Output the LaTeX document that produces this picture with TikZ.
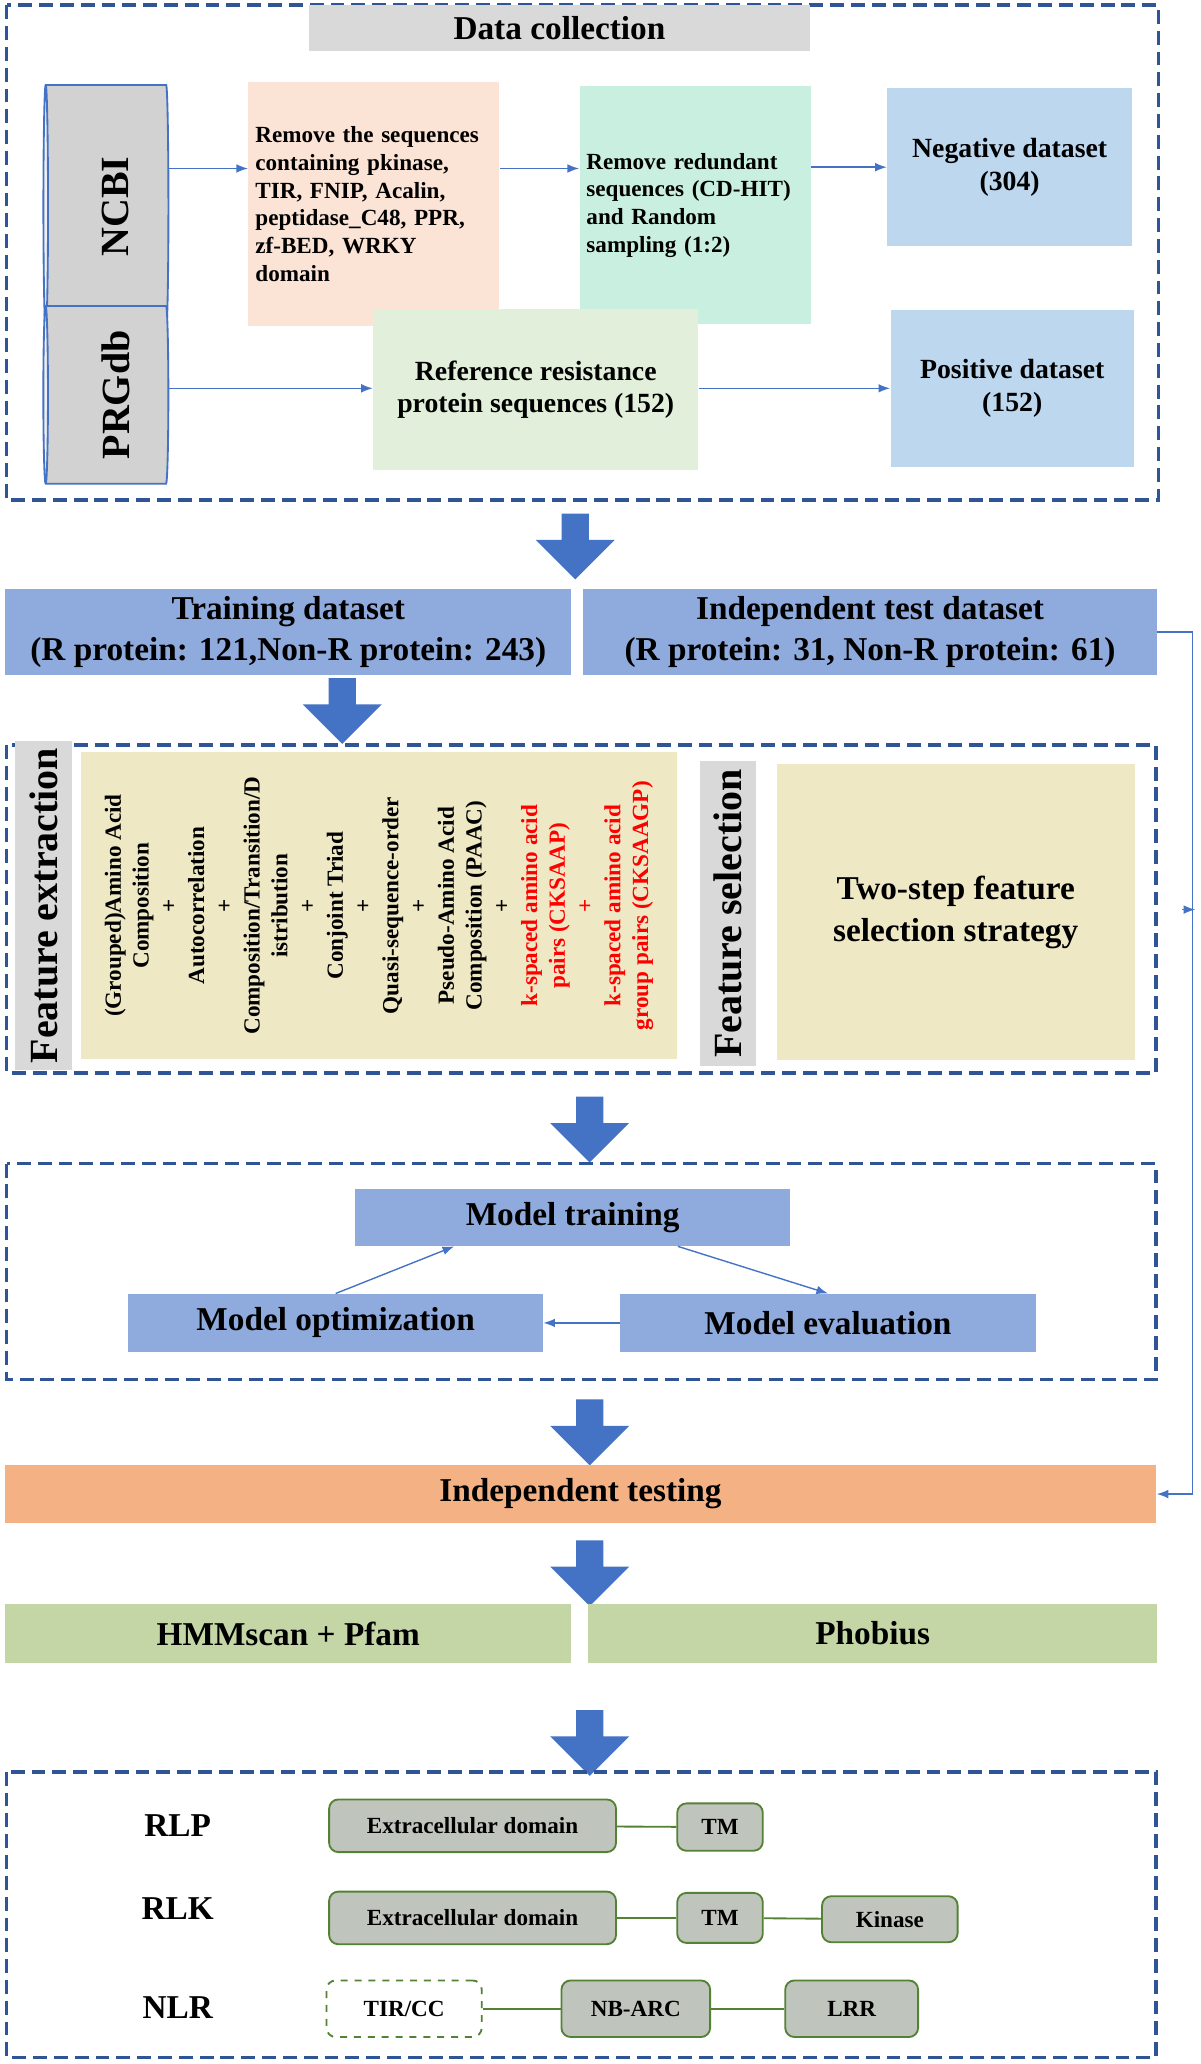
\documentclass[tikz,border=0pt]{standalone}
\usepackage{fontspec}
\setmainfont{Liberation Serif}
\usetikzlibrary{shapes.geometric, shapes.arrows, arrows.meta}
\definecolor{frameblue}{HTML}{2F5597}
\definecolor{lineblue}{HTML}{4472C4}
\definecolor{peach}{HTML}{FBE3D5}
\definecolor{mint}{HTML}{C9EFE1}
\definecolor{skyblue}{HTML}{BDD7EE}
\definecolor{palegreen}{HTML}{E2EFDA}
\definecolor{midblue}{HTML}{8FAADC}
\definecolor{tan}{HTML}{EEE8C4}
\definecolor{salmon}{HTML}{F4B183}
\definecolor{olive}{HTML}{C5D6A6}
\definecolor{domfill}{HTML}{BFC4BC}
\definecolor{domline}{HTML}{548235}
\newcommand\nohyphtext{\hyphenpenalty=10000 \exhyphenpenalty=10000 \relax}
\tikzset{
  frame/.style={draw=frameblue, line width=1.6pt, dash pattern=on 6pt off 3pt},
  box/.style={rectangle, inner sep=3pt, font=\bfseries, align=center},
  lbox/.style={box, align=left, text width=#1, font={\bfseries\nohyphtext}},
  db/.style={cylinder, shape border rotate=180, draw=lineblue, thick,
    cylinder uses custom fill, cylinder body fill=gray!35, cylinder end fill=gray!12,
    aspect=0.3, minimum height=1.9cm},
  flow/.style={-{Latex[length=5pt]}, draw=lineblue, semithick},
  bigarrow/.style={single arrow, fill=lineblue, shape border rotate=270,
    minimum width=1.2cm, minimum height=1cm, single arrow head extend=0.3cm,
    inner sep=0.15cm},
  dom/.style={rectangle, rounded corners=4pt, draw=domline, thick, fill=domfill,
    font=\bfseries, minimum height=0.8cm},
  link/.style={draw=domline, thick}
}
\begin{document}
\begin{tikzpicture}[x=0.02cm, y=-0.02cm]
\useasboundingbox (0,0) rectangle (912,1568);
% data collection
\draw[frame] (5,4) rectangle (880,380);
\node[box, fill=gray!30, minimum width=7.6cm, minimum height=0.7cm, font=\bfseries\Large] (title) at (425,21) {Data collection};
\node[db, minimum width=3.7cm] (ncbi) at (82,157) {};
\node[rotate=90, font=\bfseries\LARGE] (ncbit) at (88,157) {NCBI};
\node[db, minimum width=2.7cm] (prgdb) at (82,300) {};
\node[rotate=90, font=\bfseries\LARGE] (prgdbt) at (88,300) {PRGdb};
\node[lbox=3.6cm, fill=peach, minimum height=3.7cm] (rmdom) at (284,155) {\baselineskip=15pt Remove the sequences containing pkinase, TIR, FNIP, Acalin, peptidase\_C48, PPR, zf-BED, WRKY domain};
\node[lbox=3.3cm, fill=mint, minimum height=3.62cm] (rmred) at (528,156) {\baselineskip=15pt Remove redundant sequences (CD-HIT) and Random sampling (1:2)};
\node[box, fill=skyblue, minimum width=3.72cm, minimum height=2.4cm, font=\bfseries\large] (neg) at (767,127) {Negative dataset\\(304)};
\node[box, fill=palegreen, minimum width=4.94cm, minimum height=2.44cm, font=\bfseries\large] (ref) at (407,296) {Reference resistance\\protein sequences (152)};
\node[box, fill=skyblue, minimum width=3.7cm, minimum height=2.38cm, font=\bfseries\large] (pos) at (769,295) {Positive dataset\\(152)};
\draw[flow] (ncbi.east |- 0,128) -- (rmdom.west |- 0,128);
\draw[flow] (rmdom.east |- 0,128) -- (rmred.west |- 0,128);
\draw[flow] (rmred.east |- 0,127) -- (neg.west |- 0,127);
\draw[flow] (prgdb.east |- 0,295) -- (ref.west |- 0,295);
\draw[flow] (ref.east |- 0,295) -- (pos.west |- 0,295);
\node[bigarrow] (a1) at (437,410) {};
% datasets
\node[box, fill=midblue, minimum width=8.6cm, minimum height=1.14cm, font=\bfseries\Large] (train) at (219,480) {Training dataset\\(R protein: 121,Non-R protein: 243)};
\node[box, fill=midblue, minimum width=8.72cm, minimum height=1.14cm, font=\bfseries\Large] (indep) at (661,480) {Independent test dataset\\(R protein: 31, Non-R protein: 61)};
\node[bigarrow] (a2) at (260,535) {};
% features
\draw[frame] (5,566) rectangle (878,815);
\node[box, fill=gray!30, minimum width=4.66cm, minimum height=0.86cm, rotate=90, font=\bfseries\LARGE] (fext) at (33,688) {Feature extraction};
\node[box, fill=tan, minimum width=9.06cm, minimum height=4.66cm] (fbox) at (288,688) {};
\node[rotate=90, align=center, font=\bfseries\normalsize, inner sep=0pt] (flist) at (288,688) {%
(Grouped)Amino Acid\\Composition\\+\\Autocorrelation\\+\\Composition/Transition/D\\istribution\\+\\Conjoint Triad\\+\\Quasi-sequence-order\\+\\Pseudo-Amino Acid\\Composition (PAAC)\\+\\\textcolor{red}{k-spaced amino acid}\\\textcolor{red}{pairs (CKSAAP)}\\\textcolor{red}{+}\\\textcolor{red}{k-spaced amino acid}\\\textcolor{red}{group pairs (CKSAAGP)}};
\node[box, fill=gray!30, minimum width=4.64cm, minimum height=0.86cm, rotate=90, font=\bfseries\LARGE] (fsel) at (553,694) {Feature selection};
\node[box, fill=tan, minimum width=5.44cm, minimum height=4.5cm, font=\bfseries\Large] (twostep) at (726,693) {Two-step feature\\selection strategy};
\node[bigarrow] (a3) at (448,853) {};
% model
\draw[frame] (5,884) rectangle (878,1048);
\node[box, fill=midblue, minimum width=6.6cm, minimum height=0.86cm, font=\bfseries\Large] (mtrain) at (435,925) {Model training};
\node[box, fill=midblue, minimum width=6.3cm, minimum height=0.88cm, font=\bfseries\Large] (mopt) at (255,1005) {Model optimization};
\node[box, fill=midblue, minimum width=6.32cm, minimum height=0.88cm, font=\bfseries\Large] (meval) at (629,1005) {Model evaluation};
\draw[flow] (mopt.north) -- (mtrain.south -| 345,0);
\draw[flow] (mtrain.south -| 515,0) -- (meval.north);
\draw[flow] (meval.west) -- (mopt.east);
\node[bigarrow] (a4) at (448,1083) {};
% testing
\node[box, fill=salmon, minimum width=17.5cm, minimum height=0.88cm, font=\bfseries\Large] (itest) at (441,1135) {Independent testing};
\draw[flow] (indep.east) -- (906,480) -- (906,1135) -- (itest.east);
\coordinate (tick) at (898,691);
\draw[flow] (tick) -- ++(10,0);
\node[bigarrow] (a5) at (448,1190) {};
\node[box, fill=olive, minimum width=8.6cm, minimum height=0.9cm, font=\bfseries\Large] (hmm) at (219,1241) {HMMscan + Pfam};
\node[box, fill=olive, minimum width=8.64cm, minimum height=0.9cm, font=\bfseries\Large] (phob) at (663,1241) {Phobius};
\node[bigarrow] (a6) at (448,1319) {};
% domains
\draw[frame] (5,1346) rectangle (878,1563);
\node[font=\bfseries\Large] (rlp) at (135,1387) {RLP};
\node[font=\bfseries\Large] (rlk) at (135,1450) {RLK};
\node[font=\bfseries\Large] (nlr) at (135,1525) {NLR};
\node[dom, minimum width=4.36cm] (ext1) at (359,1387) {Extracellular domain};
\node[dom, minimum width=1.3cm, minimum height=0.72cm] (tm1) at (547,1388) {TM};
\node[dom, minimum width=4.36cm] (ext2) at (359,1457) {Extracellular domain};
\node[dom, minimum width=1.3cm, minimum height=0.76cm] (tm2) at (547,1457) {TM};
\node[dom, minimum width=2.06cm, minimum height=0.7cm] (kin) at (676,1458) {Kinase};
\node[dom, fill=white, dashed, minimum width=2.36cm, minimum height=0.86cm] (tir) at (307,1526) {TIR/CC};
\node[dom, minimum width=2.26cm, minimum height=0.86cm] (nbarc) at (483,1526) {NB-ARC};
\node[dom, minimum width=2.02cm, minimum height=0.86cm] (lrr) at (647,1526) {LRR};
\draw[link] (ext1) -- (tm1);
\draw[link] (ext2) -- (tm2);
\draw[link] (tm2) -- (kin);
\draw[link] (tir) -- (nbarc);
\draw[link] (nbarc) -- (lrr);
\end{tikzpicture}
\end{document}
